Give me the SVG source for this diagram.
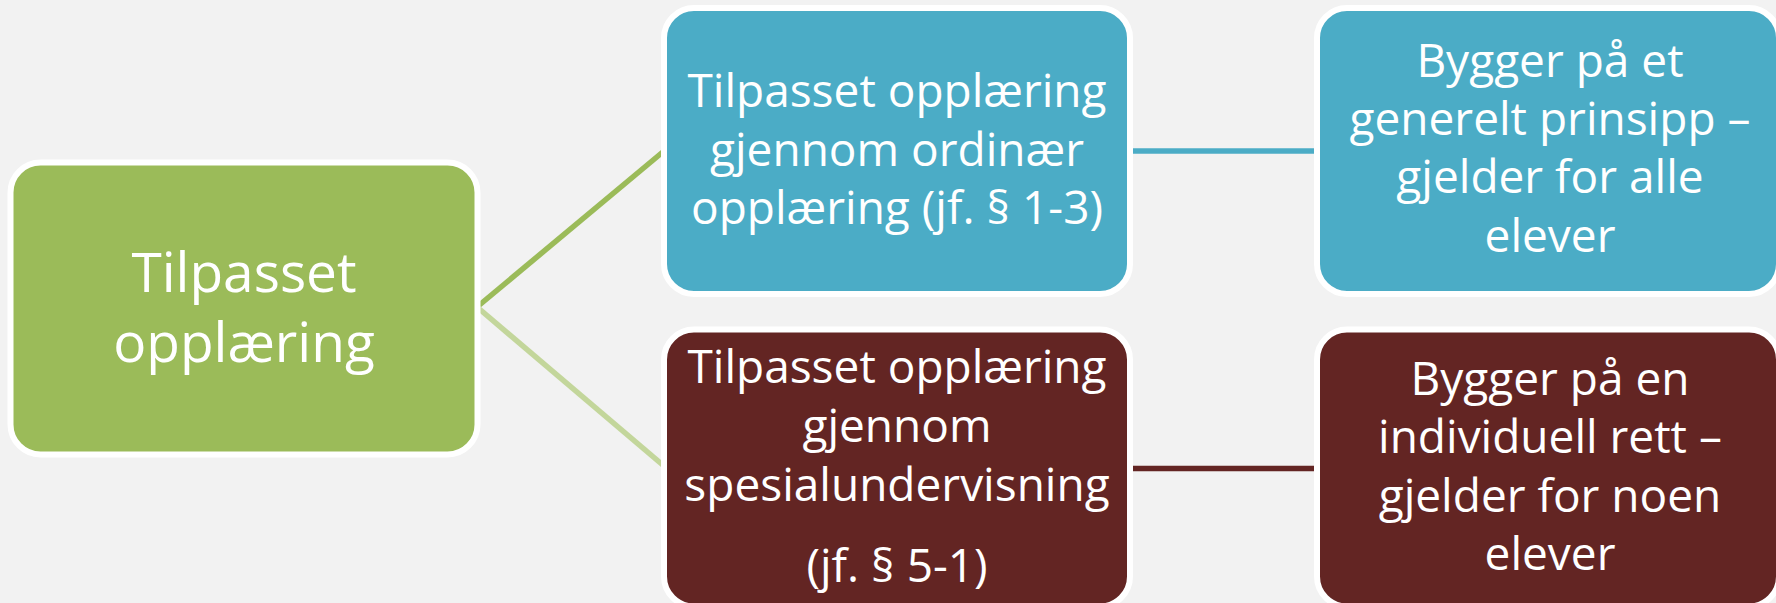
<svg xmlns="http://www.w3.org/2000/svg" width="1776" height="603" viewBox="0 0 1776 603">
  <style>
    .box { stroke: #FFFFFF; stroke-width: 6; }
    .green { fill: #9BBB59; }
    .blue { fill: #4BACC6; }
    .maroon { fill: #632523; }
    .t { font-family: "Open Sans", "Liberation Sans", sans-serif; fill: #FFFFFF; text-anchor: middle; }
    .big { font-size: 55px; }
    .mid { font-size: 46px; }
    .conn { fill: none; stroke-width: 5.5; }
  </style>
  <rect width="1776" height="603" fill="#F2F2F2"/>
  <g id="connectors">
    <line class="conn" x1="477" y1="307" x2="664" y2="151" stroke="#9BBB59"/>
    <line class="conn" x1="477" y1="307" x2="664" y2="466" stroke="#C3D69B"/>
    <line class="conn" x1="1130" y1="151" x2="1317" y2="151" stroke="#4BACC6"/>
    <line class="conn" x1="1130" y1="468.5" x2="1317" y2="468.5" stroke="#632523"/>
  </g>
  <g id="node-root">
    <rect class="box green" x="10.5" y="162.5" width="467" height="292" rx="30"/>
    <text class="t big" x="244" y="292">Tilpasset</text>
    <text class="t big" x="244" y="362">opplæring</text>
  </g>
  <g id="node-ordinaer">
    <rect class="box blue" x="664" y="8" width="466" height="286" rx="30"/>
    <text class="t mid" x="897" y="107">Tilpasset opplæring</text>
    <text class="t mid" x="897" y="166">gjennom ordinær</text>
    <text class="t mid" x="897" y="224">opplæring (jf. § 1-3)</text>
  </g>
  <g id="node-spesial">
    <rect class="box maroon" x="664" y="329.5" width="466" height="277" rx="30"/>
    <text class="t mid" x="897" y="383">Tilpasset opplæring</text>
    <text class="t mid" x="897" y="442">gjennom</text>
    <text class="t mid" x="897" y="501">spesialundervisning</text>
    <text class="t mid" x="897" y="582">(jf. § 5-1)</text>
  </g>
  <g id="node-generelt">
    <rect class="box blue" x="1317" y="8" width="462" height="286" rx="30"/>
    <text class="t mid" x="1550" y="77">Bygger på et</text>
    <text class="t mid" x="1550" y="135">generelt prinsipp –</text>
    <text class="t mid" x="1550" y="193">gjelder for alle</text>
    <text class="t mid" x="1550" y="252">elever</text>
  </g>
  <g id="node-individuell">
    <rect class="box maroon" x="1317" y="329.5" width="462" height="277" rx="30"/>
    <text class="t mid" x="1550" y="395">Bygger på en</text>
    <text class="t mid" x="1550" y="453">individuell rett –</text>
    <text class="t mid" x="1550" y="512">gjelder for noen</text>
    <text class="t mid" x="1550" y="570">elever</text>
  </g>
</svg>
